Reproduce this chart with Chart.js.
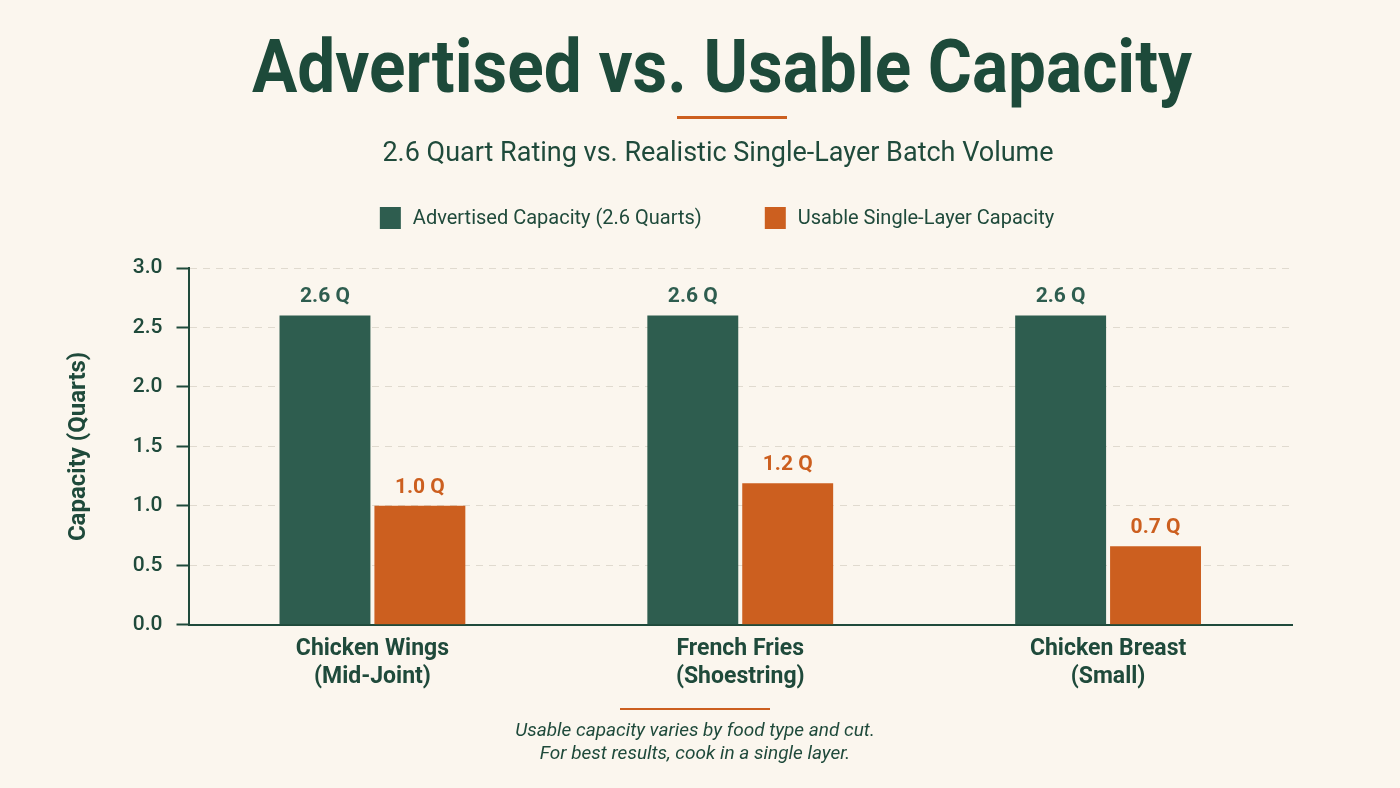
<!DOCTYPE html>
<html>
<head>
<meta charset="utf-8">
<script src="https://cdn.jsdelivr.net/npm/chart.js@4.4.0/dist/chart.umd.min.js"></script>
<style>
  html,body{margin:0;padding:0;background:#fbf6ee;}
  #wrap{width:1400px;height:788px;position:relative;}
</style>
</head>
<body>
<div id="wrap"><canvas id="c" width="1400" height="788"></canvas></div>
<script>
const categories = [["Chicken Wings","(Mid-Joint)"],["French Fries","(Shoestring)"],["Chicken Breast","(Small)"]];
const advertised = [2.6, 2.6, 2.6];
const usable = [1.0, 1.19, 0.66];
const seriesNames = ["Advertised Capacity (2.6 Quarts)", "Usable Single-Layer Capacity"];
const yTicks = [0, 0.5, 1.0, 1.5, 2.0, 2.5, 3.0];
const titleText = "Advertised vs. Usable Capacity";
const subtitleText = "2.6 Quart Rating vs. Realistic Single-Layer Batch Volume";
const footnote = ["Usable capacity varies by food type and cut.", "For best results, cook in a single layer."];

const GREEN = "#2e5d4f";
const ORANGE = "#cc5f1f";
const TEXT = "#1f4a3b";
const FONT = "Roboto, 'Noto Sans', sans-serif";

const decor = {
  id: 'decor',
  beforeDraw(chart) {
    const ctx = chart.ctx;
    ctx.save();
    ctx.fillStyle = "#fbf6ee";
    ctx.fillRect(0, 0, chart.width, chart.height);
    ctx.restore();
  },
  afterDraw(chart) {
    const ctx = chart.ctx;
    ctx.save();
    // title
    ctx.fillStyle = "#1d4a3a";
    ctx.textAlign = "center";
    ctx.textBaseline = "alphabetic";
    ctx.font = "bold 74px " + FONT;
    ctx.fillText(titleText, 722, 92, 940);
    // orange rule
    ctx.fillStyle = ORANGE;
    ctx.fillRect(677, 116, 110, 3);
    // subtitle
    ctx.fillStyle = TEXT;
    ctx.font = "27px " + FONT;
    ctx.textBaseline = "middle";
    ctx.fillText(subtitleText, 718, 154, 680);
    // legend
    ctx.font = "20px " + FONT;
    const colors = [GREEN, ORANGE];
    const w0 = ctx.measureText(seriesNames[0]).width;
    const w1 = ctx.measureText(seriesNames[1]).width;
    const gapBox = 12, gapItem = 63, box = 21;
    const total = box + gapBox + w0 + gapItem + box + gapBox + w1;
    let x = 717 - total / 2;
    const ly = 218;
    ctx.textAlign = "left";
    [w0, w1].forEach((w, i) => {
      ctx.fillStyle = colors[i];
      ctx.fillRect(x, ly - 11, box, 22);
      ctx.fillStyle = TEXT;
      ctx.fillText(seriesNames[i], x + box + gapBox, ly + 1);
      x += box + gapBox + w + gapItem;
    });
    // footer rule
    ctx.fillStyle = ORANGE;
    ctx.fillRect(620, 708, 150, 2);
    // footnote
    ctx.fillStyle = TEXT;
    ctx.textAlign = "center";
    ctx.font = "italic 19px " + FONT;
    ctx.fillText(footnote[0], 695, 731);
    ctx.fillText(footnote[1], 695, 754);
    ctx.restore();
  },
  afterDatasetsDraw(chart) {
    const ctx = chart.ctx;
    ctx.save();
    ctx.font = "bold 21px " + FONT;
    ctx.textAlign = "center";
    ctx.textBaseline = "bottom";
    chart.data.datasets.forEach((ds, di) => {
      const meta = chart.getDatasetMeta(di);
      meta.data.forEach((bar, i) => {
        ctx.fillStyle = ds.backgroundColor;
        ctx.fillText(ds.data[i].toFixed(1) + " Q", bar.x, bar.y - 8);
      });
    });
    ctx.restore();
  }
};

new Chart(document.getElementById('c'), {
  type: 'bar',
  data: {
    labels: categories,
    datasets: [
      { label: seriesNames[0], data: advertised, backgroundColor: GREEN, borderWidth: 0 },
      { label: seriesNames[1], data: usable, backgroundColor: ORANGE, borderWidth: 0 }
    ]
  },
  options: {
    responsive: false,
    animation: false,
    devicePixelRatio: 1,
    categoryPercentage: 0.516,
    barPercentage: 0.958,
    layout: { padding: { top: 268, left: 65, right: 108, bottom: 86 } },
    plugins: {
      legend: { display: false },
      title: { display: false },
      tooltip: { enabled: false }
    },
    scales: {
      x: {
        grid: { display: false, drawTicks: false },
        border: { display: true, color: TEXT, width: 2 },
        ticks: { color: TEXT, padding: 11, font: { family: FONT, size: 23, weight: 'bold', lineHeight: 1.2 } }
      },
      y: {
        min: 0, max: 3,
        afterBuildTicks(scale) { scale.ticks = yTicks.map(v => ({ value: v })); },
        grid: {
          color: "#e0dacf",
          lineWidth: 1,
          tickLength: 12,
          tickColor: TEXT,
          tickWidth: 2,
          tickBorderDash: []
        },
        border: { display: true, color: TEXT, width: 2, dash: [7, 6] },
        ticks: {
          color: TEXT,
          padding: 14,
          font: { family: FONT, size: 21, weight: '500' },
          callback: v => Number(v).toFixed(1)
        },
        title: {
          display: true,
          text: "Capacity (Quarts)",
          color: TEXT,
          padding: { top: 0, bottom: 25 },
          font: { family: FONT, size: 24, weight: 'bold' }
        }
      }
    }
  },
  plugins: [decor]
});
</script>
</body>
</html>
